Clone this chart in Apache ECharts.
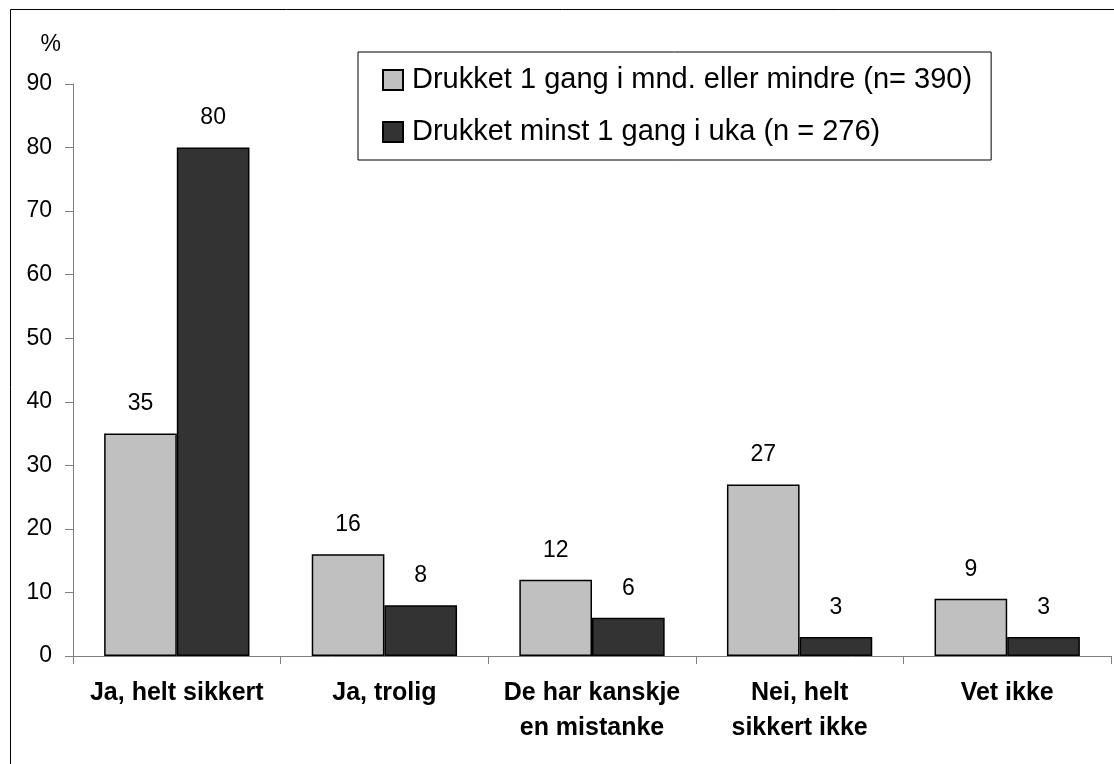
<!DOCTYPE html>
<html>
<head>
<meta charset="utf-8">
<script src="https://cdn.jsdelivr.net/npm/echarts@6/dist/echarts.min.js"></script>
<style>
  html, body { margin: 0; padding: 0; background: #fff; }
  #main { width: 1114px; height: 764px; }
</style>
</head>
<body>
<div id="main"></div>
<script>
const categories = ['Ja, helt sikkert', 'Ja, trolig', 'De har kanskje\nen mistanke', 'Nei, helt\nsikkert ikke', 'Vet ikke'];
const seriesNames = ['Drukket 1 gang i mnd. eller mindre (n= 390)', 'Drukket minst 1 gang i uka (n = 276)'];
const monthly = [35, 16, 12, 27, 9];
const weekly = [80, 8, 6, 3, 3];
const yTicks = { min: 0, max: 90, interval: 10 };

const font = '"Liberation Sans", Arial, Helvetica, sans-serif';
const chart = echarts.init(document.getElementById('main'));

function barSeries(name, data, color) {
    return {
        name: name,
        type: 'bar',
        data: data,
        barGap: '0%',
        barCategoryGap: '30%',
        itemStyle: { color: color, borderColor: '#000', borderWidth: 1.5 },
        label: {
            show: true,
            position: 'top',
            distance: 18,
            color: '#000',
            fontFamily: font,
            fontSize: 23
        },
        emphasis: { disabled: true }
    };
}

chart.setOption({
    animation: false,
    backgroundColor: '#fff',
    textStyle: { fontFamily: font },
    grid: { left: 73, right: 3, top: 84, bottom: 108, containLabel: false },
    graphic: [{
        type: 'rect',
        shape: { x: 10.5, y: 9.5, width: 1300, height: 1000 },
        style: { fill: 'none', stroke: '#000', lineWidth: 1 },
        silent: true
    }],
    legend: {
        orient: 'vertical',
        left: 358,
        top: 52,
        icon: 'rect',
        itemWidth: 20,
        itemHeight: 20,
        itemGap: 22,
        padding: [13, 19, 13, 24],
        backgroundColor: '#fff',
        borderColor: '#000',
        borderWidth: 1,
        textStyle: { fontFamily: font, fontSize: 29, color: '#000', lineHeight: 30, padding: [0, 0, 0, 4] },
        data: seriesNames
    },
    xAxis: {
        type: 'category',
        data: categories,
        axisLine: { lineStyle: { color: '#808080', width: 1 } },
        axisTick: { show: true, length: 8, alignWithLabel: false, lineStyle: { color: '#808080' } },
        axisLabel: {
            interval: 0,
            margin: 20,
            color: '#000',
            fontFamily: font,
            fontSize: 25,
            fontWeight: 'bold',
            lineHeight: 35
        }
    },
    yAxis: {
        type: 'value',
        min: yTicks.min,
        max: yTicks.max,
        interval: yTicks.interval,
        name: '%',
        nameLocation: 'end',
        nameGap: 28,
        nameTextStyle: { color: '#000', fontFamily: font, fontSize: 23, align: 'right', padding: [0, 12, 0, 0] },
        axisLine: { show: true, lineStyle: { color: '#808080', width: 1 } },
        axisTick: { show: true, length: 8, lineStyle: { color: '#808080' } },
        axisLabel: { margin: 21, color: '#000', fontFamily: font, fontSize: 23 },
        splitLine: { show: false }
    },
    series: [
        barSeries(seriesNames[0], monthly, '#c0c0c0'),
        barSeries(seriesNames[1], weekly, '#333333')
    ]
});
</script>
</body>
</html>
